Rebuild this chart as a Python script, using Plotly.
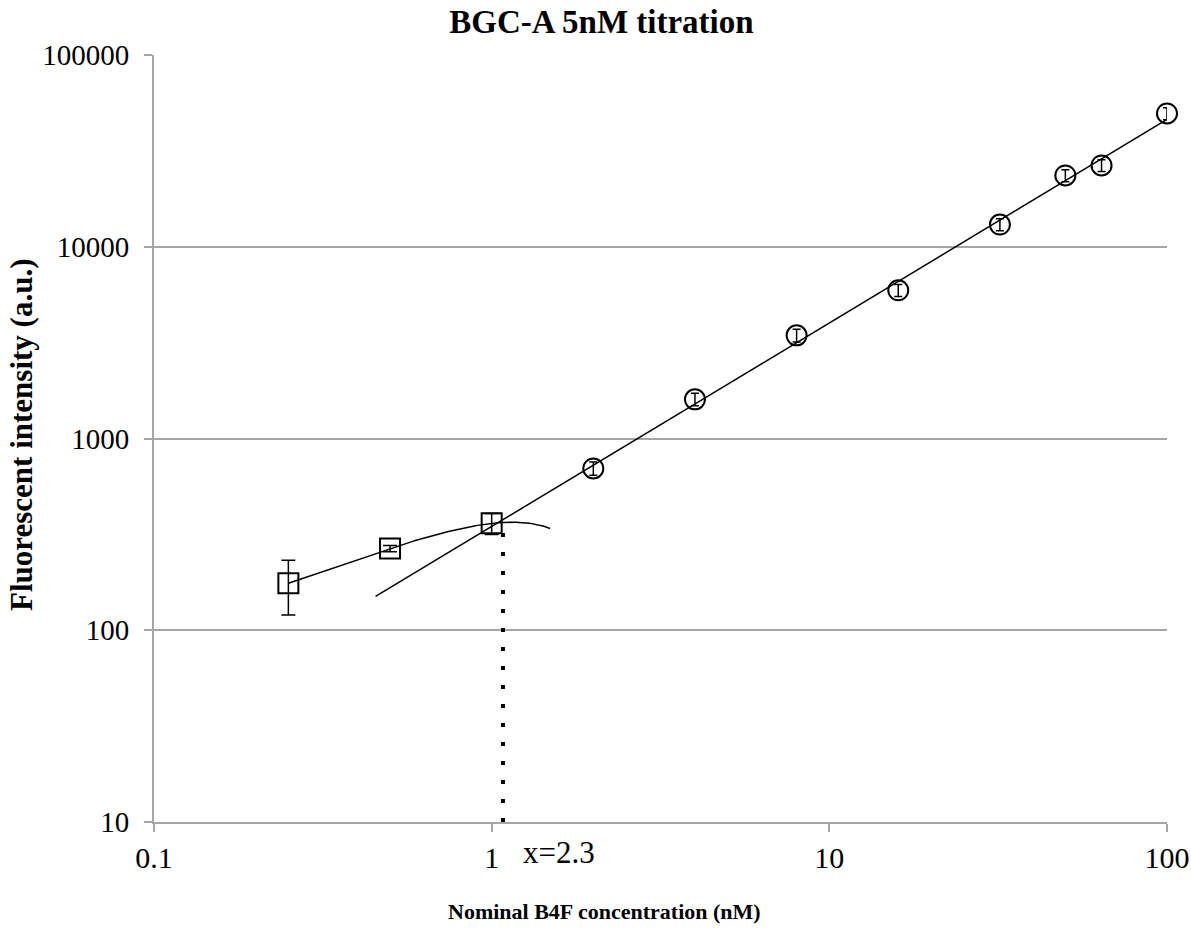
import numpy as np
import plotly.graph_objects as go

# ---- data ----
sq_x = [0.25, 0.5, 1.0]
sq_y = [176, 267, 361]
sq_err = [56, 10, 45]

circ_x = [2, 4, 8, 16, 32, 50, 64, 100]
circ_y = [698, 1600, 3450, 5930, 13060, 23540, 26550, 49550]
circ_err = [55, 120, 260, 420, 950, 1700, 1900, 3600]

# trendline extents (forecast ranges)
poly_x_range = [0.25, 1.49]
power_x_range = [0.453, 100]

# dotted marker line
dot_x = [1.08, 1.08]
dot_y = [10, 340]
dot_label = "x=2.3"

xtick_vals = [0.1, 1, 10, 100]
xtick_text = ["0.1", "1", "10", "100"]
ytick_vals = [10, 100, 1000, 10000, 100000]
ytick_text = ["10", "100", "1000", "10000", "100000"]

# ---- fits computed from the data ----
pc = np.polyfit(sq_x, sq_y, 2)
px = np.linspace(poly_x_range[0], poly_x_range[1], 120)
py = np.polyval(pc, px)

lc = np.polyfit(np.log10(circ_x), np.log10(circ_y), 1)
lx = np.array(power_x_range)
ly = 10 ** np.polyval(lc, np.log10(lx))

SERIF = "Liberation Serif, Times New Roman, serif"

fig = go.Figure()
fig.add_trace(go.Scatter(x=px, y=py, mode="lines", line=dict(color="black", width=1.5),
                         hoverinfo="skip", showlegend=False, cliponaxis=False))
fig.add_trace(go.Scatter(x=lx, y=ly, mode="lines", line=dict(color="black", width=1.5),
                         hoverinfo="skip", showlegend=False, cliponaxis=False))
fig.add_trace(go.Scatter(x=dot_x, y=dot_y, mode="lines",
                         line=dict(color="black", width=4, dash="4px,15px"),
                         hoverinfo="skip", showlegend=False))
fig.add_trace(go.Scatter(x=sq_x, y=sq_y, mode="markers", cliponaxis=False,
                         marker=dict(symbol="square-open", size=20, color="black",
                                     line=dict(width=2, color="black")),
                         error_y=dict(type="data", array=sq_err, color="black",
                                      thickness=1.5, width=7),
                         showlegend=False))
fig.add_trace(go.Scatter(x=circ_x, y=circ_y, mode="markers", cliponaxis=False,
                         marker=dict(symbol="circle-open", size=20, color="black",
                                     line=dict(width=2, color="black")),
                         error_y=dict(type="data", array=circ_err, color="black",
                                      thickness=1.5, width=4),
                         showlegend=False))

fig.add_annotation(x=np.log10(1.22), y=-0.04, xref="x", yref="paper", text=dot_label,
                   showarrow=False, xanchor="left", yanchor="middle",
                   font=dict(family=SERIF, size=31, color="black"))

# axis titles as annotations for exact placement
fig.add_annotation(x=0.445, y=-0.117, xref="paper", yref="paper",
                   text="<b>Nominal B4F concentration (nM)</b>", showarrow=False,
                   xanchor="center", yanchor="middle",
                   font=dict(family=SERIF, size=22, color="black"))
fig.add_annotation(x=-0.1303, y=0.5046, xref="paper", yref="paper",
                   text="<b>Fluorescent intensity (a.u.)</b>", showarrow=False,
                   textangle=-90, xanchor="center", yanchor="middle",
                   font=dict(family=SERIF, size=31, color="black"))

fig.update_layout(
    width=1191, height=934,
    margin=dict(l=154, r=24, t=55, b=112, autoexpand=False),
    paper_bgcolor="white", plot_bgcolor="white",
    title=dict(text="<b>BGC-A 5nM titration</b>", x=0.505, xanchor="center",
               y=0.977, yanchor="middle",
               font=dict(family=SERIF, size=33, color="black")),
    xaxis=dict(type="log", range=[-1, 2], tickvals=xtick_vals, ticktext=xtick_text,
               showgrid=False, showline=True, linecolor="#a6a6a6", linewidth=2,
               ticks="outside", ticklen=8, tickcolor="#a6a6a6", tickwidth=2,
               automargin=False,
               tickfont=dict(family=SERIF, size=30, color="black"),
               zeroline=False),
    yaxis=dict(type="log", range=[1, 5], tickvals=ytick_vals, ticktext=ytick_text,
               showgrid=True, gridcolor="#a6a6a6", gridwidth=2,
               showline=True, linecolor="#a6a6a6", linewidth=2,
               ticks="outside", ticklen=8, tickcolor="#a6a6a6", tickwidth=2,
               ticklabelstandoff=9, automargin=False,
               tickfont=dict(family=SERIF, size=29, color="black"),
               zeroline=False),
)

fig.write_html("out.html")
